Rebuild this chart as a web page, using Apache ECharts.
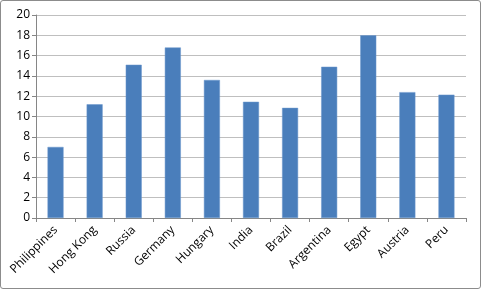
<!DOCTYPE html>
<html><head><meta charset="utf-8">
<script src="https://cdn.jsdelivr.net/npm/echarts@6/dist/echarts.min.js"></script>
<style>html,body{margin:0;padding:0;background:#fff}#c{width:481px;height:289px;box-sizing:border-box;border:1px solid #8c8c8c;border-radius:3px}</style>
</head><body><div id="c"></div>
<script>
const categories = ["Philippines","Hong Kong","Russia","Germany","Hungary","India","Brazil","Argentina","Egypt","Austria","Peru"];
const values = [7.0, 11.2, 15.1, 16.8, 13.6, 11.45, 10.85, 14.9, 18.0, 12.4, 12.15];
const yMin = 0, yMax = 20, yStep = 2;

const chart = echarts.init(document.getElementById('c'), null, {renderer:'canvas'});
chart.setOption({
  animation:false,
  grid:{left:35, right:14, top:14, bottom:70},
  xAxis:{type:'category', data:categories,
    axisLine:{lineStyle:{color:'#868686'}},
    axisTick:{show:true, alignWithLabel:false, length:4, lineStyle:{color:'#868686'}},
    axisLabel:{rotate:45, interval:0, fontFamily:'Open Sans', fontSize:12, color:'#000', margin:10}
  },
  yAxis:{type:'value', min:yMin, max:yMax, interval:yStep,
    axisLine:{show:true, lineStyle:{color:'#868686'}},
    axisTick:{show:true, length:4, lineStyle:{color:'#868686'}},
    splitLine:{lineStyle:{color:'#bfbfbf'}},
    axisLabel:{fontFamily:'Open Sans', fontSize:12, color:'#000', margin:6}
  },
  series:[{type:'bar', data:values, barWidth:16,
    itemStyle:{color:'#4A7EBB', borderColor:'#6a96cc', borderWidth:0.5}}]
});
</script></body></html>
